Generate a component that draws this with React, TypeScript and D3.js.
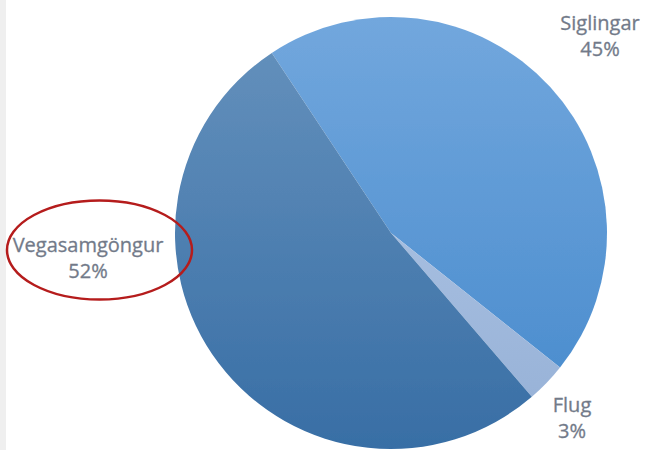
import React from 'react';
import * as d3 from 'd3';

// slice data, in drawing order (clockwise from the Siglingar edge)
const categories = ['Siglingar', 'Flug', 'Vegasamgöngur'];
const shares = [45, 3, 52];
const percentLabels = ['45%', '3%', '52%'];

const width = 646;
const height = 450;
const cx = 391;
const cy = 233;
const radius = 216;

// top / bottom gradient stops per slice
const sliceColors: Record<string, [string, string]> = {
  Siglingar: ['#72a7dd', '#4589cc'],
  Flug: ['#b6cbe9', '#95b0d6'],
  Vegasamgöngur: ['#6692bd', '#386ea5'],
};

// label anchor points (centre of the first text line's baseline)
const labelPos: Record<string, [number, number]> = {
  Siglingar: [600, 30],
  Flug: [572, 412],
  Vegasamgöngur: [88, 252],
};

const App = () => {
  const pie = d3
    .pie<number>()
    .sort(null)
    .value((d) => d)
    .startAngle((-33.5 * Math.PI) / 180)
    .endAngle(((360 - 33.5) * Math.PI) / 180);
  const arcs = pie(shares);
  const arc = d3.arc<d3.PieArcDatum<number>>().innerRadius(0).outerRadius(radius);

  return (
    <svg
      width={width}
      height={height}
      style={{ position: 'absolute', left: 0, top: 0, background: '#fff' }}
      fontFamily="'Open Sans', sans-serif"
    >
      <defs>
        {categories.map((c) => (
          <linearGradient
            key={c}
            id={`g-${c}`}
            gradientUnits="userSpaceOnUse"
            x1={0}
            y1={-radius}
            x2={0}
            y2={radius}
          >
            <stop offset="0%" stopColor={sliceColors[c][0]} />
            <stop offset="100%" stopColor={sliceColors[c][1]} />
          </linearGradient>
        ))}
        <filter id="soft" x="-5%" y="-5%" width="110%" height="110%">
          <feGaussianBlur stdDeviation="0.6" />
        </filter>
      </defs>

      <rect x={0} y={0} width={6} height={height} fill="#efefef" />

      <g transform={`translate(${cx},${cy})`} filter="url(#soft)">
        {arcs.map((a, i) => (
          <path key={categories[i]} d={arc(a) ?? ''} fill={`url(#g-${categories[i]})`} />
        ))}
      </g>

      {categories.map((c, i) => (
        <text
          key={c}
          x={labelPos[c][0]}
          y={labelPos[c][1]}
          textAnchor="middle"
          fontSize={20}
          fill="#727a89"
          stroke="#727a89"
          strokeWidth={0.3}
        >
          <tspan x={labelPos[c][0]}>{c}</tspan>
          <tspan x={labelPos[c][0]} dy={26}>
            {percentLabels[i]}
          </tspan>
        </text>
      ))}

      <ellipse cx={99.5} cy={250} rx={92.5} ry={49.5} fill="none" stroke="#b51c1c" strokeWidth={2.5} />
    </svg>
  );
};

export default App;
